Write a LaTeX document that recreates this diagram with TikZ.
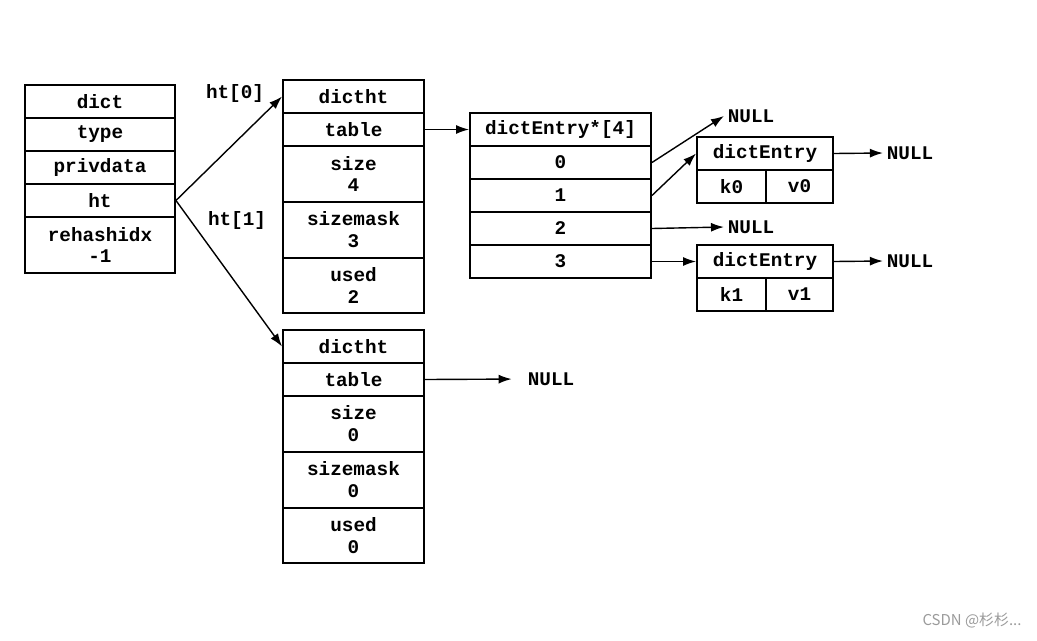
\documentclass[tikz,border=0pt]{standalone}
\usepackage{fontspec}
\setmonofont{Liberation Mono}
\newfontfamily\cjkfont{Noto Sans CJK SC}
\usetikzlibrary{arrows.meta,positioning}
\definecolor{mark}{HTML}{9A9A9A}
\tikzset{cell/.style={draw,line width=1.1pt,inner sep=0pt,align=center,font=\ttfamily\bfseries\fontsize{11}{12.5}\selectfont},lbl/.style={inner sep=2pt,font=\ttfamily\bfseries\fontsize{11}{12.5}\selectfont},ptr/.style={draw,line width=0.8pt,-{Latex[length=2.6mm,width=1.8mm]}}}

\begin{document}
\begin{tikzpicture}[x=0.02cm,y=-0.02cm]
\useasboundingbox (0,0) rectangle (1037,640);
% dict
\foreach \n/\y/\h/\t in {dict/101.5/.66/dict,type/134.5/.66/type,priv/167.5/.66/privdata,ht/200.5/.66/ht,rehash/245/1.12/{rehashidx\\-1}}{\node[cell,minimum width=3cm,minimum height=\h cm] (d-\n) at (100,\y) {\t};}
% two dictht
\foreach \i/\o/\s/\m/\u in {0/0/4/3/2,1/250/0/0/0}{
\node[cell,minimum width=2.82cm,minimum height=.66cm] (t\i-dictht) at (353.5,96.5+\o) {dictht};
\node[cell,minimum width=2.82cm,minimum height=.66cm] (t\i-table) at (353.5,129.5+\o) {table};
\node[cell,minimum width=2.82cm,minimum height=1.12cm] (t\i-size) at (353.5,174+\o) {size\\\s};
\node[cell,minimum width=2.82cm,minimum height=1.12cm] (t\i-mask) at (353.5,230+\o) {sizemask\\\m};
\node[cell,minimum width=2.82cm,minimum height=1.1cm] (t\i-used) at (353.5,285.5+\o) {used\\\u};
}
% bucket array
\node[cell,minimum width=3.62cm,minimum height=.66cm] (a-head) at (560.5,129.5) {dictEntry*[4]};
\foreach \k in {0,...,3}{\node[cell,minimum width=3.62cm,minimum height=.66cm] (a-\k) at (560.5,162.5+33*\k) {\k};}
% entries
\foreach \j/\y in {0/153.5,1/261.5}{
\node[cell,minimum width=2.72cm,minimum height=.66cm] (e\j-head) at (765,\y) {dictEntry};
\node[cell,minimum width=1.38cm,minimum height=.66cm] (e\j-k) at (731.5,\y+33) {k\j};
\node[cell,minimum width=1.34cm,minimum height=.66cm] (e\j-v) at (799.5,\y+33) {v\j};
}
\node[lbl] (lab0) at (235,93) {ht[0]};
\node[lbl] (lab1) at (237,220) {ht[1]};
\node[lbl] (n-a0) at (751,116) {NULL};
\node[lbl] (n-a2) at (751,227) {NULL};
\node[lbl] (n-e0) at (910,153) {NULL};
\node[lbl] (n-e1) at (910,261) {NULL};
\node[lbl] (n-t1) at (551,379) {NULL};
\draw[ptr] (d-ht.east) -- (t0-dictht.west);
\draw[ptr] (d-ht.east) -- (t1-dictht.west);
\draw[ptr] (t0-table.east) -- (a-head.west);
\draw[ptr,shorten >=7pt] (t1-table.east) -- (n-t1.west);
\draw[ptr] (a-0.east) -- (n-a0.west);
\draw[ptr] (a-1.east) -- (e0-head.west);
\draw[ptr] (a-2.east) -- (n-a2.west);
\draw[ptr] (a-3.east) -- (e1-head.west);
\draw[ptr] (e0-head.east) -- (n-e0.west);
\draw[ptr] (e1-head.east) -- (n-e1.west);
\node[text=mark,font=\cjkfont\fontsize{8.5}{10}\selectfont] (wm) at (972,621) {CSDN @杉杉...};
\end{tikzpicture}
\end{document}
